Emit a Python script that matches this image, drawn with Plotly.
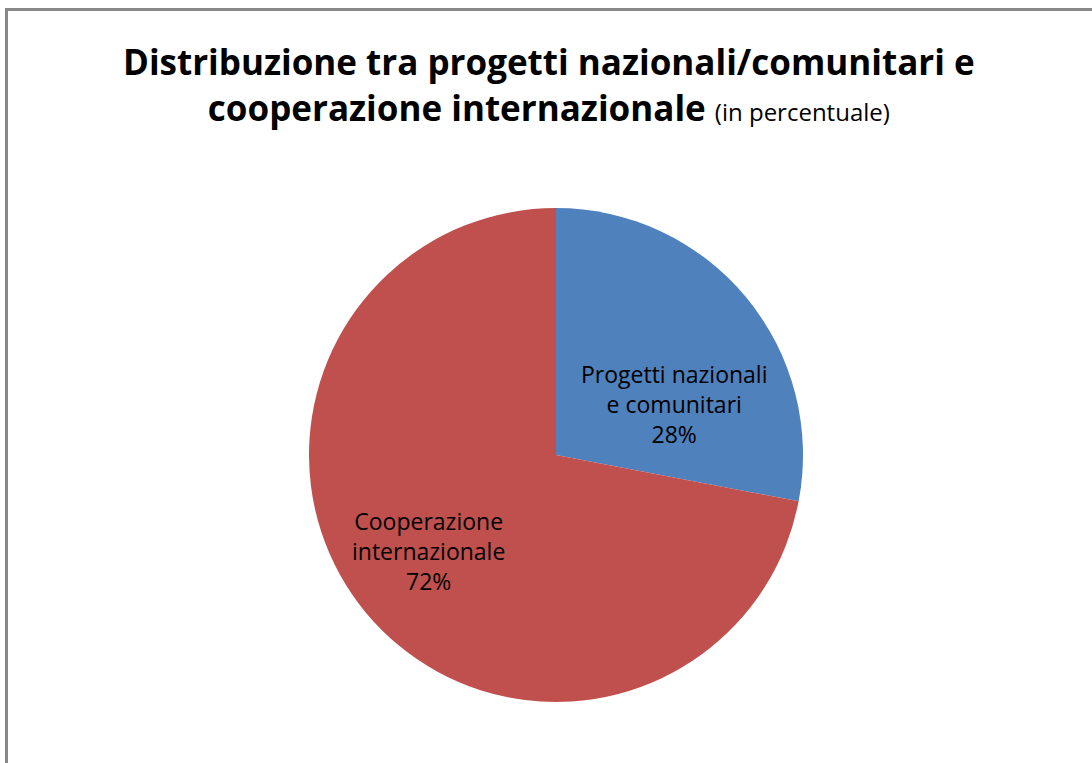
import plotly.graph_objects as go

categories = ["Progetti nazionali<br>e comunitari", "Cooperazione<br>internazionale"]
values = [28, 72]
colors = ["#4F81BD", "#C0504D"]

W, H = 1092, 763
cx, cy, r = 556, 455, 247

# label anchor points (pixel positions inside slices)
label_px = [(674, 404), (428, 551)]

fig = go.Figure(go.Pie(
    labels=categories,
    values=values,
    sort=False,
    direction="clockwise",
    rotation=0,
    marker=dict(colors=colors, line=dict(width=0)),
    textinfo="none",
    domain=dict(x=[(cx - r) / W, (cx + r) / W], y=[1 - (cy + r) / H, 1 - (cy - r) / H]),
    showlegend=False,
    hoverinfo="skip",
))

total = sum(values)
for lab, v, (px, py) in zip(categories, values, label_px):
    fig.add_annotation(
        x=px / W, y=1 - py / H, xref="paper", yref="paper",
        xanchor="center", yanchor="middle", showarrow=False, align="center",
        text=f"{lab}<br>{round(100 * v / total)}%",
        font=dict(family="Open Sans", size=23, color="black"),
    )

fig.add_annotation(
    x=549 / W, y=1 - 36 / H, xref="paper", yref="paper", xanchor="center", yanchor="top",
    showarrow=False, align="center",
    text="<b>Distribuzione tra progetti nazionali/comunitari e<br>cooperazione internazionale</b> <span style='font-size:24px'>(in percentuale)</span>",
    font=dict(family="Open Sans", size=35, color="black"),
)

fig.add_shape(type="line", xref="paper", yref="paper", x0=6.5 / W, x1=6.5 / W, y0=0, y1=1 - 9.5 / H,
              line=dict(color="#888888", width=3))
fig.add_shape(type="line", xref="paper", yref="paper", x0=5 / W, x1=1, y0=1 - 9.5 / H, y1=1 - 9.5 / H,
              line=dict(color="#888888", width=3))

fig.update_layout(
    width=W, height=H, margin=dict(l=0, r=0, t=0, b=0),
    paper_bgcolor="white", plot_bgcolor="white",
)

fig.write_html("out.html", config={"displayModeBar": False},
               post_script="document.body.style.margin='0px';document.body.style.overflow='hidden';")
